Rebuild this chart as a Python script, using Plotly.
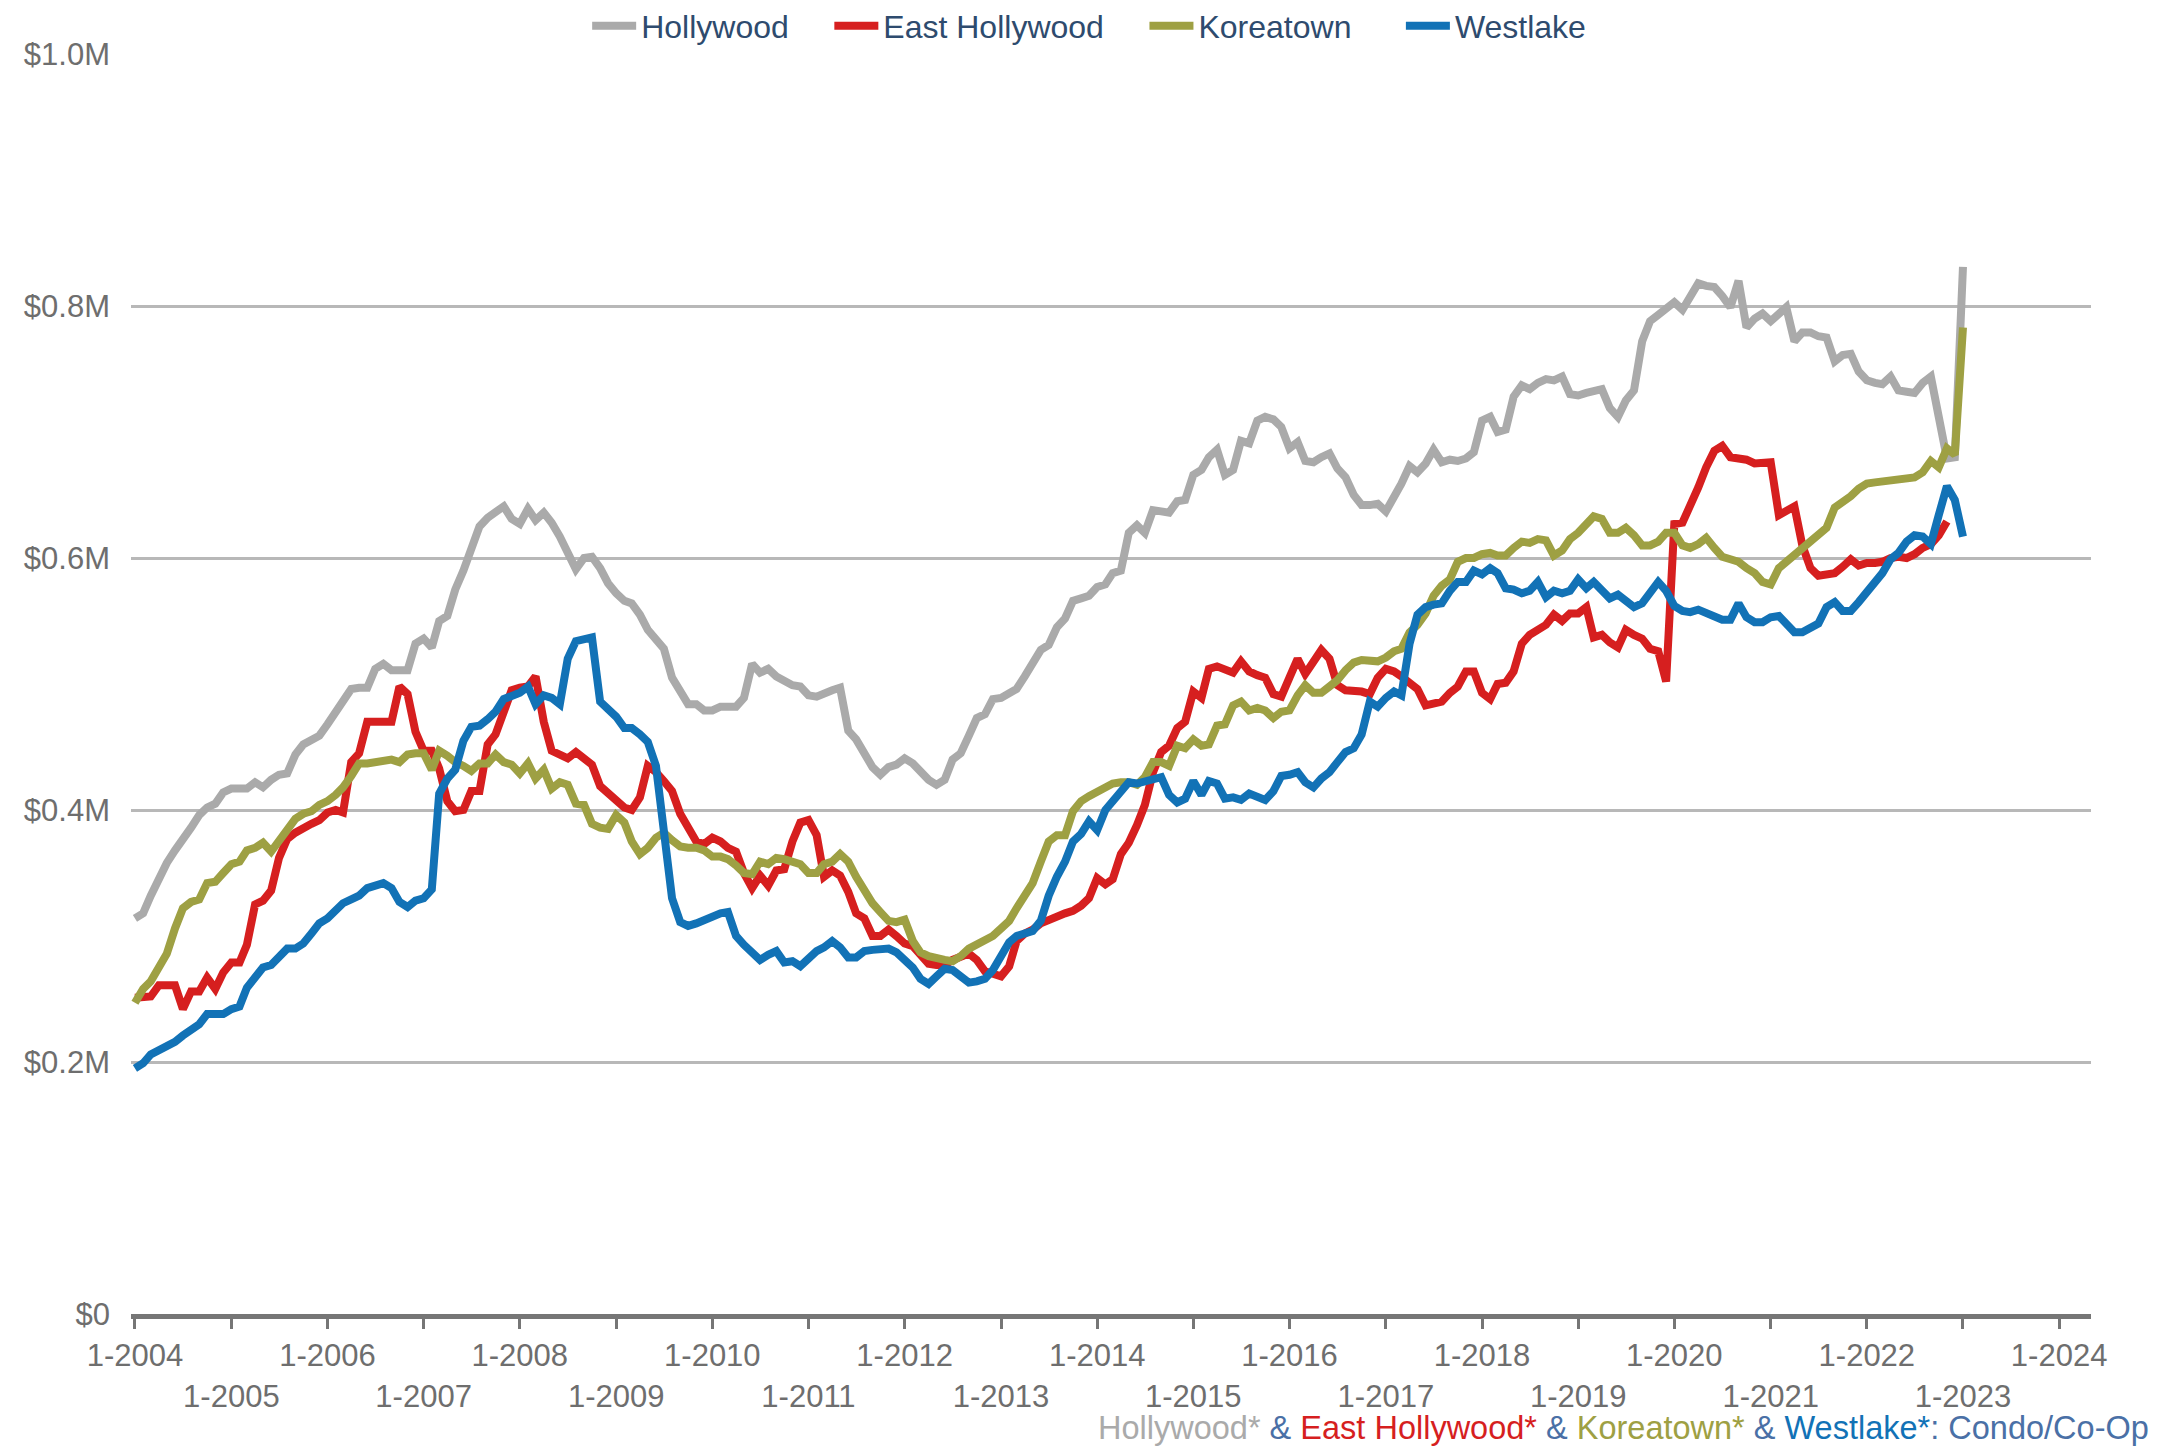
import pandas as pd
import plotly.graph_objects as go

# ---------------- data (median price, $K, monthly from 1-2004) ----------------
START = "2004-01-01"

hollywood = [
    314, 318, 332, 346, 358, 368, 376, 386, 396, 402, 405, 414,
    417, 417, 417, 422, 418, 424, 428, 429, 444, 452, 455, 459,
    468, 478, 488, 496, 497, 497, 512, 516, 511, 511, 511, 532,
    536, 529, 550, 554, 575, 590, 608, 625, 632, 636, 641, 631,
    627, 639, 630, 636, 628, 617, 603, 591, 600, 601, 592, 580,
    572, 566, 564, 555, 543, 535, 528, 505, 493, 484, 484, 479,
    479, 482, 482, 482, 489, 516, 509, 512, 506, 503, 499, 498,
    491, 490, 493, 495, 497, 463, 456, 445, 434, 428, 434, 436,
    441, 437, 430, 424, 420, 424, 440, 445, 459, 473, 476, 488,
    489, 493, 496, 506, 516, 527, 531, 545, 552, 566, 568, 570,
    577, 579, 588, 590, 620, 626, 620, 638, 637, 636, 645, 646,
    666, 670, 680, 686, 666, 670, 693, 691, 709, 712, 710, 704,
    687, 692, 677, 676, 680, 683, 671, 664, 650, 642, 642, 643,
    637, 648, 659, 673, 668, 675, 686, 676, 678, 677, 679, 684,
    709, 712, 700, 702, 728, 737, 734, 739, 742, 741, 744, 730,
    729, 731, 733, 734, 719, 712, 725, 733, 772, 788, 793, 799,
    803, 797, 808, 818, 816, 815, 808, 799, 820, 783, 790, 794,
    788, 793, 799, 772, 779, 779, 776, 775, 756, 761, 762, 748,
    741, 739, 738, 744, 733, 732, 731, 739, 744, 712, 679, 680, 831,
]

east_hollywood = [
    251, 251, 252, 261, 261, 261, 242, 256, 256, 267, 258, 271,
    279, 279, 293, 325, 328, 336, 362, 377, 382, 386, 389, 392,
    398, 400, 398, 438, 445, 470, 470, 470, 470, 498, 492, 462,
    447, 447, 433, 407, 399, 400, 415, 415, 452, 460, 477, 495,
    497, 498, 506, 470, 447, 444, 441, 446, 440, 436, 419, 413,
    408, 402, 400, 410, 435, 430, 423, 415, 397, 385, 375, 373,
    378, 375, 370, 367, 350, 338, 348, 340, 352, 353, 375, 390,
    392, 380, 347, 352, 348, 335, 318, 314, 300, 300, 305, 300,
    294, 292, 286, 278, 277, 277, 281, 284, 286, 281, 272, 270,
    268, 276, 296, 302, 305, 310, 313, 316, 318, 320, 324, 330,
    346, 341, 345, 365, 374, 388, 404, 430, 446, 451, 465, 470,
    494, 489, 512, 514, 511, 509, 518, 510, 507, 505, 492, 490,
    505, 520, 508, 518, 527, 520, 499, 495, 495, 494, 492, 505,
    512, 510, 506, 500, 496, 483, 484, 486, 493, 498, 510, 510,
    493, 488, 500, 501, 510, 532, 539, 544, 547, 555, 550, 556,
    556, 561, 537, 539, 533, 529, 543, 539, 536, 528, 526, 502,
    627, 628, 640, 656, 672, 685, 689, 680, 679, 678, 675, 676,
    676, 634, 638, 641, 610, 592, 586, 587, 588, 593, 599, 594,
    596, 596, 597, 600, 601, 600, 603, 608, 611, 618, 629,
]

koreatown = [
    247, 258, 264, 274, 286, 306, 322, 327, 329, 342, 343, 350,
    357, 359, 368, 370, 374, 367, 375, 384, 393, 397, 399, 404,
    407, 412, 418, 427, 437, 437, 438, 439, 440, 438, 444, 445,
    445, 432, 447, 443, 438, 435, 431, 437, 437, 444, 438, 436,
    429, 437, 425, 432, 417, 422, 420, 405, 404, 389, 386, 385,
    396, 390, 375, 365, 370, 378, 382, 376, 371, 370, 370, 368,
    363, 363, 361, 356, 350, 349, 359, 357, 362, 361, 359, 357,
    350, 350, 357, 359, 365, 359, 347, 335, 326, 319, 312, 311,
    313, 296, 287, 284, 282, 281, 280, 284, 290, 293, 296, 300,
    306, 312, 322, 331, 342, 359, 375, 380, 380, 399, 407, 411,
    415, 418, 421, 422, 422, 420, 426, 438, 438, 435, 451, 449,
    456, 451, 452, 467, 468, 483, 486, 479, 481, 479, 473, 478,
    479, 491, 499, 493, 493, 498, 503, 511, 517, 519, 518, 518,
    521, 526, 528, 541, 547, 556, 570, 578, 583, 597, 600, 600,
    603, 604, 602, 602, 608, 613, 612, 615, 614, 602, 606, 615,
    620, 627, 633, 631, 620, 620, 624, 618, 610, 610, 613, 620,
    620, 610, 608, 611, 616, 608, 601, 599, 597, 592, 588, 581,
    579, 592, 597, 602, 608, 613, 618, 624, 640, 644, 649, 655,
    659, 660, 661, 662, 663, 663, 664, 668, 677, 672, 687, 682, 783,
]

westlake = [
    195, 199, 206, 209, 212, 216, 221, 226, 230, 238, 238, 238,
    242, 244, 259, 267, 275, 277, 283, 290, 290, 294, 302, 310,
    314, 320, 326, 329, 332, 338, 340, 342, 338, 327, 323, 328,
    330, 337, 413, 425, 432, 455, 466, 467, 472, 478, 488, 491,
    493, 498, 484, 491, 489, 484, 520, 534, 536, 537, 486, 480,
    474, 465, 465, 460, 454, 435, 385, 330, 311, 308, 310, 313,
    316, 318, 319, 300, 293, 287, 281, 285, 288, 279, 280, 276,
    282, 288, 291, 296, 291, 283, 283, 288, 289, 289, 290, 287,
    280, 275, 266, 262, 268, 274, 273, 268, 263, 264, 266, 273,
    284, 295, 300, 302, 304, 312, 332, 347, 359, 375, 381, 391,
    384, 400, 407, 416, 422, 421, 423, 424, 426, 412, 406, 409,
    423, 412, 423, 421, 409, 410, 408, 413, 411, 408, 415, 427,
    428, 430, 422, 418, 425, 430, 438, 446, 449, 460, 486, 482,
    489, 494, 491, 532, 555, 561, 563, 564, 574, 581, 581, 590,
    587, 592, 588, 576, 575, 572, 574, 581, 569, 574, 572, 574,
    583, 576, 581, 574, 568, 571, 567, 561, 564, 572, 581, 574,
    562, 558, 557, 559, 556, 554, 551, 551, 564, 553, 549, 549,
    553, 554, 548, 541, 541, 544, 548, 561, 565, 558, 558, 565,
    573, 580, 588, 599, 604, 613, 618, 617, 611, 634, 657, 646, 617,
]

series_names = ["Hollywood", "East Hollywood", "Koreatown", "Westlake"]
series_values = [hollywood, east_hollywood, koreatown, westlake]
series_colors = ["#AAAAAA", "#D61F1F", "#9EA043", "#1272B6"]
legend_pad = [4, 4, 5, 0]   # trailing gaps between legend entries

tick_years = list(range(2004, 2025))
y_tick_vals = [0, 200000, 400000, 600000, 800000, 1000000]
y_tick_text = ["$0", "$0.2M", "$0.4M", "$0.6M", "$0.8M", "$1.0M"]

# ---------------- figure ----------------
FONT = "Liberation Sans, Arial, sans-serif"
TICK_COLOR = "#6E6E6E"
NBSP = "\u00a0"

fig = go.Figure()
for name, vals, col, pad in zip(series_names, series_values, series_colors, legend_pad):
    dates = pd.date_range(START, periods=len(vals), freq="MS")
    fig.add_trace(go.Scatter(
        x=dates, y=[v * 1000 for v in vals], mode="lines", name=name + NBSP * pad,
        line=dict(color=col, width=8), hovertemplate=name + ": %{y:$,.0f}<extra></extra>",
    ))

x_tick_vals = [f"{y}-01-01" for y in tick_years]
x_tick_text = [f"1-{y}" if (y - 2004) % 2 == 0 else f"<br>1-{y}" for y in tick_years]

fig.update_xaxes(
    type="date", range=["2003-12-17", "2024-05-01"],
    tickmode="array", tickvals=x_tick_vals, ticktext=x_tick_text,
    tickangle=0, automargin=False,
    ticks="outside", ticklen=10, tickwidth=3, tickcolor="#767676",
    showline=True, linecolor="#767676", linewidth=5,
    showgrid=False, zeroline=False,
    tickfont=dict(family=FONT, size=31, color=TICK_COLOR),
)
fig.update_yaxes(
    range=[0, 1000000], tickmode="array", tickvals=y_tick_vals, ticktext=y_tick_text,
    automargin=False,
    showgrid=True, gridcolor="#B8B8B8", gridwidth=2.7, zeroline=False,
    showline=False, ticks="", ticklabelstandoff=20,
    tickfont=dict(family=FONT, size=31, color=TICK_COLOR),
)

caption = (
    "<span style='color:#AAAAAA'>Hollywood*</span>"
    "<span style='color:#4A70A6'> &amp; </span>"
    "<span style='color:#D61F1F'>East Hollywood*</span>"
    "<span style='color:#4A70A6'> &amp; </span>"
    "<span style='color:#9EA043'>Koreatown*</span>"
    "<span style='color:#4A70A6'> &amp; </span>"
    "<span style='color:#1272B6'>Westlake*</span>"
    "<span style='color:#4A70A6'>: Condo/Co-Op</span>"
)
fig.add_annotation(
    text=caption, xref="paper", yref="paper", x=0.4923, y=-0.0905,
    xanchor="left", yanchor="middle", showarrow=False,
    font=dict(family=FONT, size=32.5),
)

# the page body adds an 8px offset, so the figure is 8px smaller than the window
fig.update_layout(
    width=2149, height=1439,
    margin=dict(l=123, r=66, t=46, b=133, autoexpand=False),
    paper_bgcolor="white", plot_bgcolor="white",
    font=dict(family=FONT, size=31, color=TICK_COLOR),
    showlegend=True,
    legend=dict(
        orientation="h", xref="container", yref="container",
        x=0.2695, xanchor="left", y=0.9875, yanchor="middle",
        font=dict(family=FONT, size=32, color="#2E4B6E"),
        bgcolor="rgba(0,0,0,0)", itemwidth=44,
    ),
)

fig.write_html("out.html")
